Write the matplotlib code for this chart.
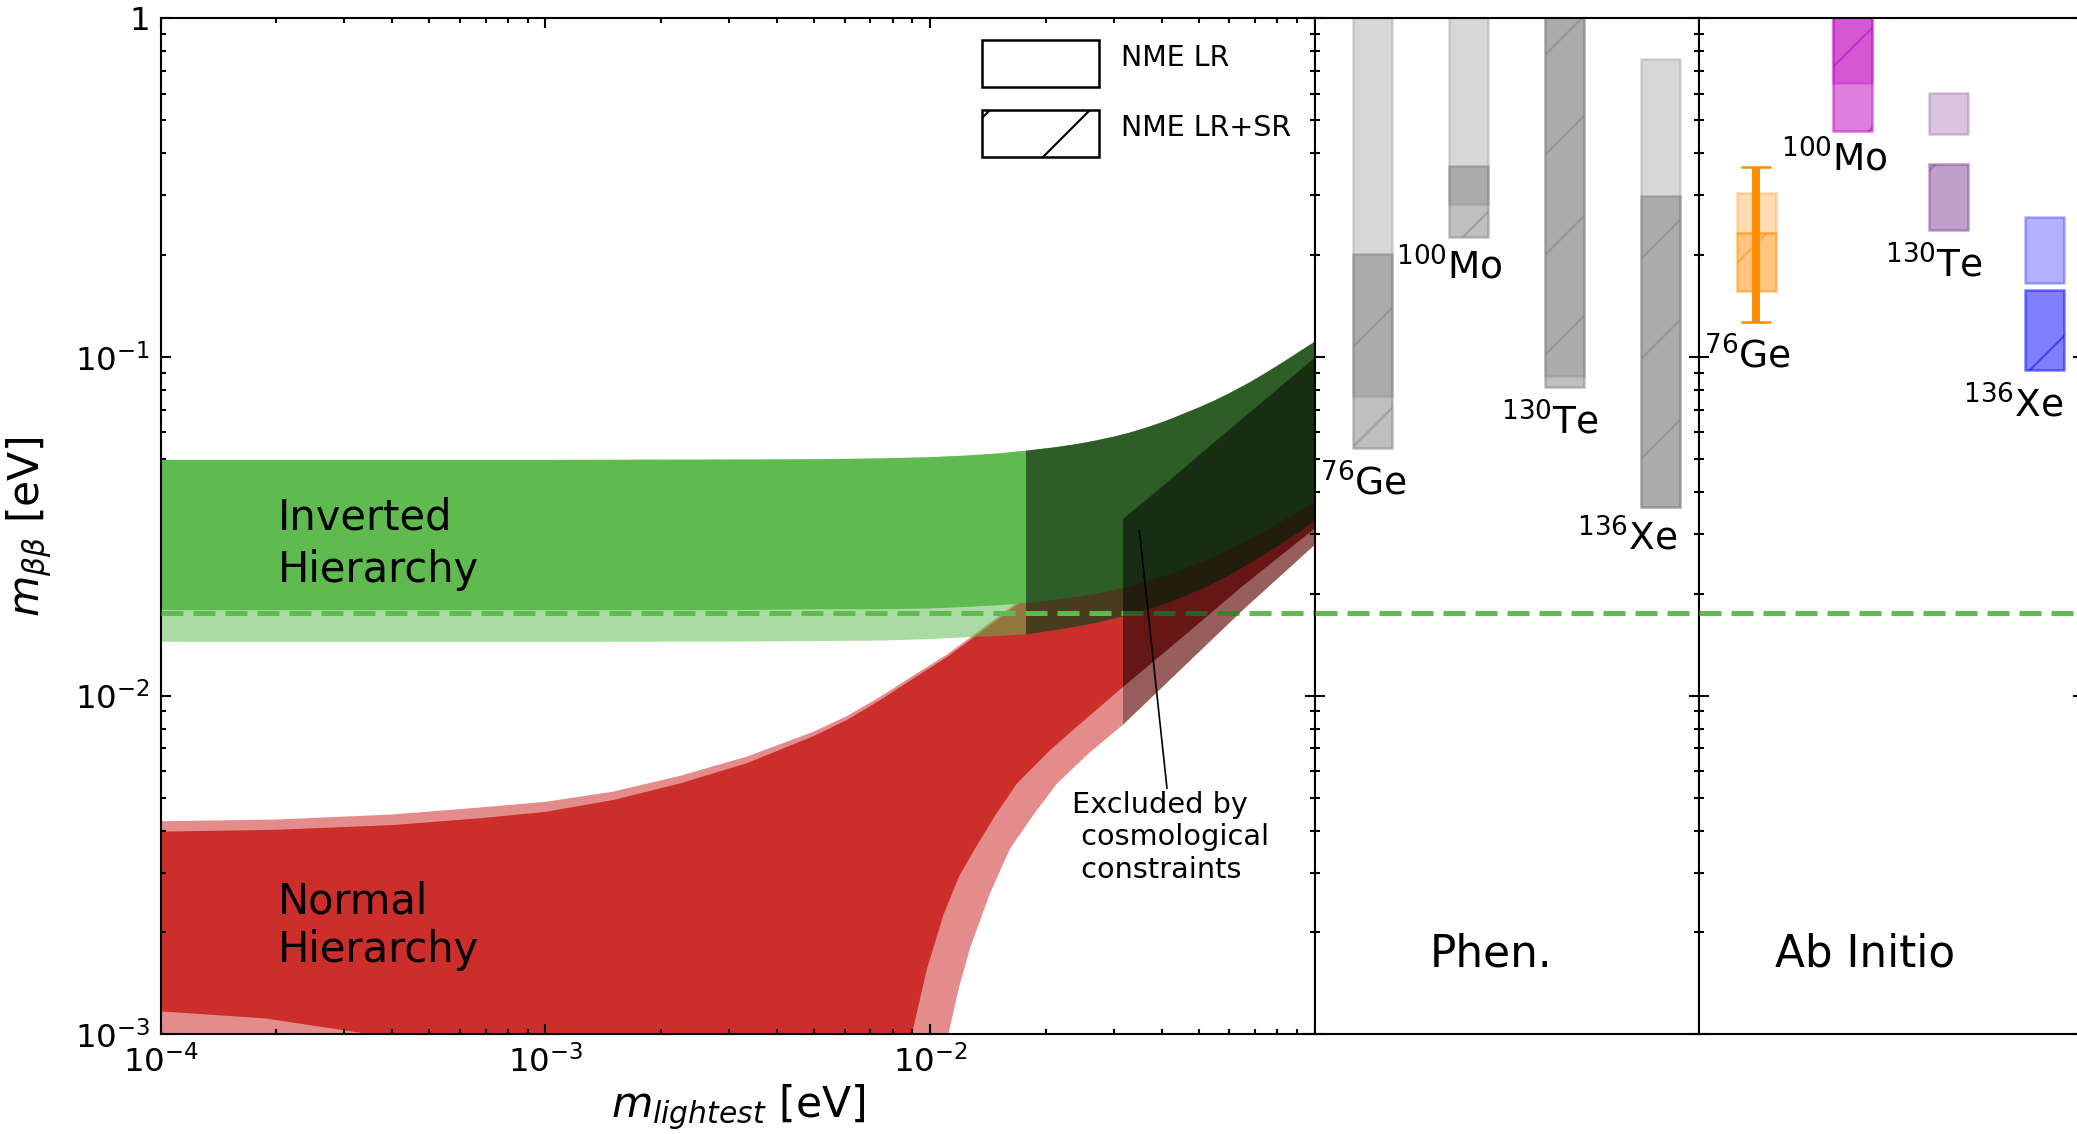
import matplotlib
matplotlib.use('Agg')
import matplotlib.pyplot as plt
from matplotlib.patches import Patch, Rectangle
from matplotlib.legend_handler import HandlerPatch
import numpy as np

plt.rcParams['font.family'] = ['DejaVu Sans']
plt.rcParams['mathtext.fontset'] = 'dejavusans'
plt.rcParams['hatch.linewidth'] = 0.5
plt.rcParams['axes.linewidth'] = 0.5

GREEN = '#5fbb4f'
RED = '#cc2e2c'

# --- inverted hierarchy band (m_lightest, m_bb in eV)
ih_m = [1e-4, 1e-3, 3e-3, 5e-3, 7.4e-3, 0.010, 0.0125, 0.015, 0.018, 0.021, 0.024, 0.027, 0.030,
        0.033, 0.037, 0.041, 0.045, 0.050, 0.055, 0.060, 0.067, 0.073, 0.080, 0.087, 0.093, 0.1]
ih_top = [0.0497, 0.0497, 0.0498, 0.0499, 0.0502, 0.0506, 0.0512, 0.0519, 0.0530, 0.0541, 0.0553,
          0.0567, 0.0582, 0.0598, 0.0622, 0.0648, 0.0676, 0.0710, 0.0745, 0.0782, 0.0836, 0.0885,
          0.0943, 0.1002, 0.1053, 0.111]
ih_low_bf = [0.0179, 0.0179, 0.0179, 0.0180, 0.0180, 0.0181, 0.0183, 0.0185, 0.0188, 0.0192, 0.0196,
             0.0200, 0.0205, 0.0210, 0.0218, 0.0226, 0.0235, 0.0247, 0.0258, 0.0270, 0.0288, 0.0303,
             0.0322, 0.0340, 0.0355, 0.0372]
ih_low_3s = [0.01443, 0.01443, 0.01445, 0.0145, 0.01455, 0.0147, 0.0149, 0.0150, 0.0152, 0.0156, 0.0160,
             0.0164, 0.0169, 0.0173, 0.0180, 0.0187, 0.0195, 0.0205, 0.0216, 0.0227, 0.0244, 0.0259,
             0.0276, 0.0294, 0.0309, 0.0330]

# --- normal hierarchy band, upper edge
nh_top_m = [1e-4, 2e-4, 4e-4, 6.8e-4, 1.0e-3, 1.5e-3, 2.24e-3, 3.34e-3, 4.98e-3, 6.08e-3, 7.42e-3,
            9.06e-3, 0.01106, 0.0126, 0.0152, 0.018, 0.0245, 0.0317, 0.042, 0.0545, 0.072, 0.1]
nh_top_bf = [0.00397, 0.00402, 0.00415, 0.00435, 0.00454, 0.00492, 0.00551, 0.00632, 0.0076, 0.00848,
             0.00971, 0.01125, 0.0130, 0.0145, 0.0170, 0.0197, 0.0260, 0.0330, 0.0431, 0.0556, 0.0726,
             0.0995]
nh_top_3s = [0.00426, 0.00431, 0.00446, 0.00468, 0.00486, 0.00521, 0.0058, 0.00661, 0.00783, 0.00871,
             0.00993, 0.01148, 0.01323, 0.01475, 0.01727, 0.0200, 0.0263, 0.0333, 0.0434, 0.0558,
             0.0727, 0.0995]
# lower edges; 0.0008 = below the bottom of the plot
nh_low_bf_m = [1e-4, 1.87e-4, 2.78e-4, 3.53e-4, 4.5e-4, 0.0085, 0.00897, 0.0098, 0.01083, 0.0119,
               0.0131, 0.0148, 0.01681, 0.0205, 0.02407, 0.0317, 0.045, 0.065, 0.1]
nh_low_bf = [0.00117, 0.001115, 0.001042, 0.001, 0.0008, 0.0008, 0.001, 0.00155, 0.00225, 0.00293,
             0.00354, 0.00445, 0.0055, 0.0069, 0.0081, 0.0106, 0.0148, 0.0211, 0.0312]
nh_low_3s_m = [1e-4, 0.01062, 0.01116, 0.0119, 0.01271, 0.0143, 0.01615, 0.0187, 0.02136, 0.026,
               0.0317, 0.045, 0.065, 0.1]
nh_low_3s = [0.0008, 0.0008, 0.001, 0.00138, 0.0018, 0.0026, 0.00354, 0.0045, 0.0055, 0.0068,
             0.0082, 0.0120, 0.0179, 0.0279]

ih_cosmo_cut = 0.0178
nh_cosmo_cut = 0.0318
sensitivity = 0.0176

# --- NME panels: m_bb ranges (eV); 2.0 means the bar runs off the top
isotopes = ['$^{76}$Ge', '$^{100}$Mo', '$^{130}$Te', '$^{136}$Xe']
bar_pos = [1, 2, 3, 4]
phen_lr_lo = [0.0770, 0.2824, 0.0881, 0.0362]
phen_lr_hi = [2.0, 2.0, 2.0, 0.759]
phen_sr_lo = [0.0540, 0.2259, 0.0817, 0.0362]
phen_sr_hi = [0.2010, 0.3671, 2.0, 0.2985]
ab_lr_lo = [0.2328, 0.6455, 0.4545, 0.1654]
ab_lr_hi = [0.3043, 2.0, 0.6031, 0.2590]
ab_sr_lo = [0.1569, 0.4648, 0.2371, 0.0915]
ab_sr_hi = [0.2328, 2.0, 0.3707, 0.1577]
ab_colors = ['darkorange', 'm', '#824198', 'blue']
ge_err_lo, ge_err_hi = 0.1266, 0.3631

phen_lab_x = [0.456, 1.248, 2.341, 3.129]
phen_lab_y = [0.03925, 0.1704, 0.05925, 0.02693]
ab_lab_x = [0.45, 1.256, 2.341, 3.15]
ab_lab_y = [0.0926, 0.3548, 0.1726, 0.0666]


def band(a, xt, yt, xb, yb, **kw):
    xs = np.concatenate([xt, xb[::-1]])
    ys = np.concatenate([yt, yb[::-1]])
    return a.fill(xs, ys, lw=0, **kw)[0]


def clip_right(patch, a, x0):
    r = Rectangle((x0, 1e-3), 0.1 - x0, 1 - 1e-3, transform=a.transData)
    patch.set_clip_path(r)


class LowPatch(HandlerPatch):
    # legend box sits a bit lower than the label text
    def create_artists(self, legend, orig_handle, xdescent, ydescent, width, height, fontsize, trans):
        return super().create_artists(legend, orig_handle, xdescent, ydescent + 0.25 * fontsize,
                                      width, height, fontsize, trans)


fig = plt.figure(figsize=(2077 / 300, 1134 / 300), dpi=300)
ax = fig.add_axes([0.0773, 0.0878, 0.5557, 0.8960])
ax_ph = fig.add_axes([0.6330, 0.0878, 0.1849, 0.8960])
ax_ab = fig.add_axes([0.8179, 0.0878, 0.1849, 0.8960])

ax.set_xscale('log')
ax.set_yscale('log')

band(ax, nh_top_m, nh_top_3s, nh_low_3s_m, nh_low_3s, color=RED, alpha=0.55, zorder=1)
band(ax, nh_top_m, nh_top_bf, nh_low_bf_m, nh_low_bf, color=RED, zorder=1.1)
band(ax, ih_m, ih_top, ih_m, ih_low_3s, color=GREEN, alpha=0.53, zorder=2)
band(ax, ih_m, ih_top, ih_m, ih_low_bf, color=GREEN, zorder=2.1)

# cosmologically excluded parts, darkened
ov = band(ax, ih_m, ih_top, ih_m, ih_low_3s, color='black', alpha=0.5, zorder=2.5)
clip_right(ov, ax, ih_cosmo_cut)
ov = band(ax, nh_top_m, nh_top_3s, nh_low_3s_m, nh_low_3s, color='black', alpha=0.33, zorder=3.5)
clip_right(ov, ax, nh_cosmo_cut)
ov = band(ax, nh_top_m, nh_top_bf, nh_low_bf_m, nh_low_bf, color='black', alpha=0.25, zorder=3.5)
clip_right(ov, ax, nh_cosmo_cut)

for a in (ax, ax_ph, ax_ab):
    a.axhline(sensitivity, color=GREEN, lw=1.2, ls=(0, (4.4, 2.0)), zorder=3)

ax.set_xlim(1e-4, 0.1)
ax.set_ylim(1e-3, 1)
ax.set_xticks([1e-4, 1e-3, 1e-2, 1e-1], ['$10^{-4}$', '$10^{-3}$', '$10^{-2}$', ''])
ax.set_yticks([1e-3, 1e-2, 1e-1, 1], ['$10^{-3}$', '$10^{-2}$', '$10^{-1}$', '1'])
ax.tick_params(which='both', direction='in', top=True, right=True, width=0.5, labelsize=7.8, pad=2.5)
ax.tick_params(which='major', length=2.4)
ax.tick_params(which='minor', length=1.1)
ax.set_xlabel(r'$m_{lightest}$ [eV]', fontsize=10.2, labelpad=0.8)
ax.set_ylabel(r'$m_{\beta\beta}$ [eV]', fontsize=10.2, labelpad=5)

ax.text(2.02e-4, 0.0281, 'Inverted\nHierarchy', fontsize=10, va='center', linespacing=1.3, zorder=6)
ax.text(2.02e-4, 0.00209, 'Normal\nHierarchy', fontsize=10, va='center', zorder=6)
ax.text(0.0234, 0.00523, 'Excluded by\n cosmological\n constraints', fontsize=6.9, va='top', zorder=6)
ax.annotate('', xy=(0.0350, 0.0308), xytext=(0.0413, 0.00533),
            arrowprops=dict(arrowstyle='-', color='black', lw=0.4, shrinkA=0, shrinkB=0), zorder=6)

handles = [Patch(facecolor='none', edgecolor='black', lw=0.6, label='NME LR'),
           Patch(facecolor='none', edgecolor='black', lw=0.6, hatch='/', label='NME LR+SR')]
ax.legend(handles=handles, loc='upper left', bbox_to_anchor=(0.7115, 0.9855), frameon=False,
          fontsize=6.85, handlelength=4.1, handleheight=2.16, handletextpad=0.79,
          labelspacing=0.81, borderpad=0, borderaxespad=0,
          handler_map={Patch: LowPatch()})

# side panels
for a in (ax_ph, ax_ab):
    a.set_yscale('log')
    a.set_ylim(1e-3, 1)
    a.set_xlim(0.4, 4.4)
    a.set_xticks([])
    a.tick_params(axis='y', which='both', direction='in', left=True, right=True,
                  labelleft=False, width=0.5)
    a.tick_params(axis='y', which='major', length=2.4)
    a.tick_params(axis='y', which='minor', length=1.1)

ax_ph.bar(bar_pos, np.subtract(phen_lr_hi, phen_lr_lo), bottom=phen_lr_lo, width=0.4,
          color='gray', alpha=0.3, edgecolor='gray', lw=0.6)
ax_ph.bar(bar_pos, np.subtract(phen_sr_hi, phen_sr_lo), bottom=phen_sr_lo, width=0.4,
          color='gray', alpha=0.5, edgecolor='gray', lw=0.6, hatch='/')
for x, y, s in zip(phen_lab_x, phen_lab_y, isotopes):
    ax_ph.text(x, y, s, fontsize=9, va='baseline')
ax_ph.text(2.237, 0.001585, 'Phen.', fontsize=10.5, ha='center', va='baseline')

for i in range(4):
    ax_ab.bar(bar_pos[i], ab_lr_hi[i] - ab_lr_lo[i], bottom=ab_lr_lo[i], width=0.4,
              color=ab_colors[i], alpha=0.3, edgecolor=ab_colors[i], lw=0.6)
    ax_ab.bar(bar_pos[i], ab_sr_hi[i] - ab_sr_lo[i], bottom=ab_sr_lo[i], width=0.4,
              color=ab_colors[i], alpha=0.5, edgecolor=ab_colors[i], lw=0.6, hatch='/')
ge_mid = np.sqrt(ge_err_lo * ge_err_hi)
ax_ab.errorbar([bar_pos[0]], [ge_mid], yerr=[[ge_mid - ge_err_lo], [ge_err_hi - ge_mid]],
               fmt='none', ecolor='darkorange', elinewidth=1.9, capsize=3.6, capthick=0.6)
for x, y, s in zip(ab_lab_x, ab_lab_y, isotopes):
    ax_ab.text(x, y, s, fontsize=9, va='baseline')
ax_ab.text(2.132, 0.001585, 'Ab Initio', fontsize=10.5, ha='center', va='baseline')

fig.savefig('out.png', dpi=300)
